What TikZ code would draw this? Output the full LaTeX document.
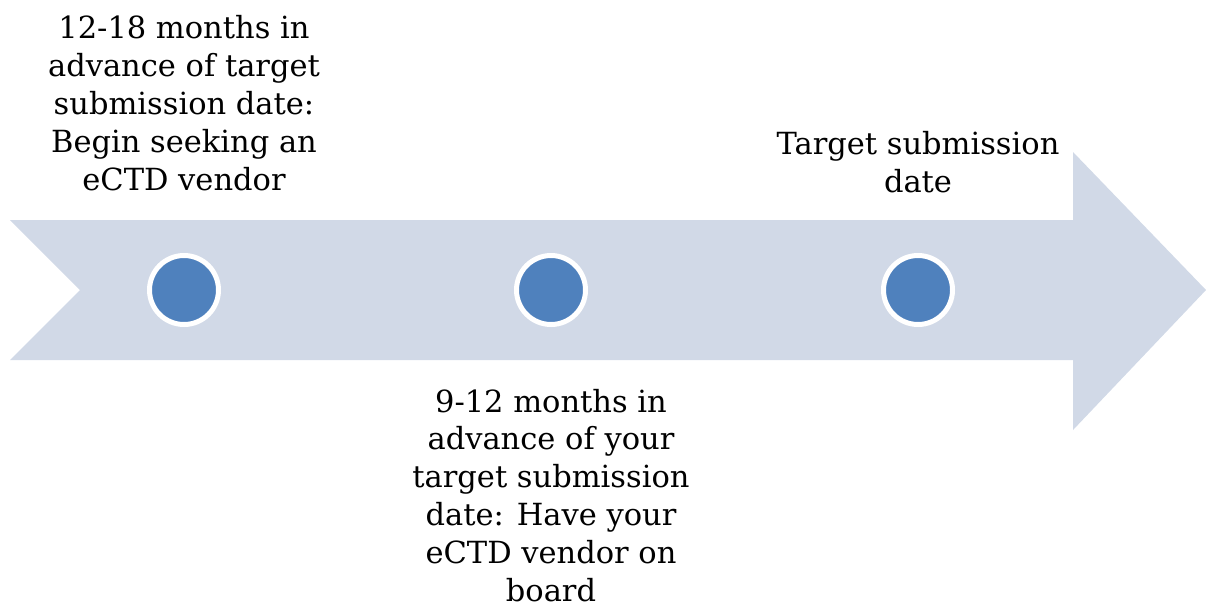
\documentclass[tikz,border=0pt]{standalone}
\usepackage{fontspec}
\setmainfont{DejaVu Serif}
\usepackage{tikz}
\definecolor{arrowfill}{HTML}{D1D9E7}
\definecolor{dotfill}{HTML}{4F81BD}
\tikzstyle{milestone} = [circle, fill=dotfill, draw=white, line width=5pt,
minimum size=69pt, inner sep=0pt]
\tikzstyle{mylabel} = [align=center, inner sep=0pt, anchor=base,
font=\fontsize{30.5}{37.8}\selectfont]

\begin{document}
\begin{tikzpicture}[x=1pt, y=-1pt]
		\useasboundingbox (0,0) rectangle (1206,606);
		% the time line arrow
		\fill [arrowfill] (10,220) -- (1073,220) -- (1073,152) -- (1206,290)
			-- (1073,430) -- (1073,360) -- (10,360) -- (80,290) -- cycle;
		% milestones
		\node [milestone] (start) at (184,290) {};
		\node [milestone] (vendor) at (551,290) {};
		\node [milestone] (target) at (918,290) {};
		% labels (base = baseline of the last line)
		\node [mylabel] (startlabel) at (184,190) {12-18 months in\\
			advance of target\\ submission date:\\ Begin seeking an\\ eCTD vendor};
		\node [mylabel] (vendorlabel) at (551,601) {9-12 months in\\
			advance of your\\ target submission\\ date: Have your\\ eCTD vendor on\\ board};
		\node [mylabel] (targetlabel) at (918,192) {Target submission\\ date};
		\end{tikzpicture}
\end{document}
